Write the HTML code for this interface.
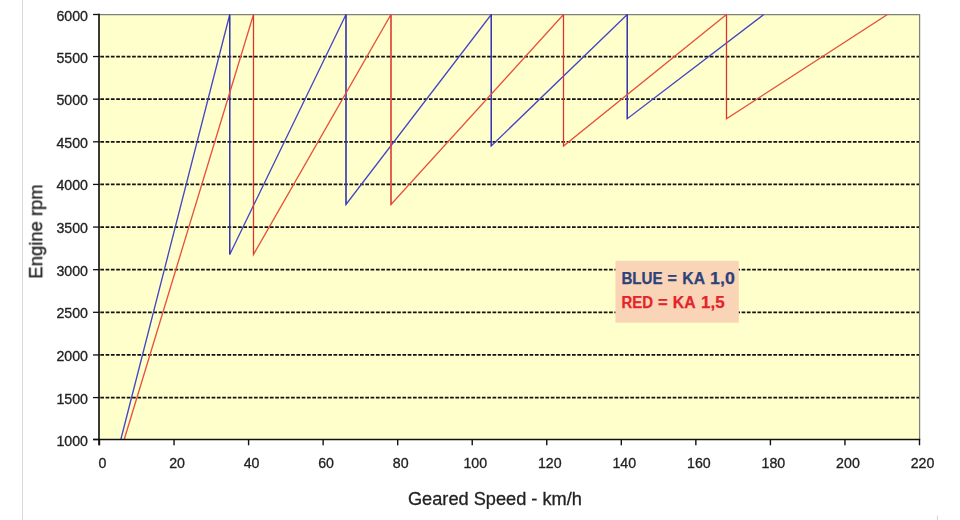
<!DOCTYPE html>
<html><head><meta charset="utf-8"><title>Chart</title>
<style>
html,body{margin:0;padding:0;background:#fff;}
body{width:960px;height:520px;overflow:hidden;font-family:"Liberation Sans",sans-serif;}
svg{display:block;font-family:"Liberation Sans",sans-serif;}
</style></head><body>
<svg width="960" height="520" viewBox="0 0 960 520">
<rect x="99.5" y="14.5" width="820" height="425" fill="#ffffcc"/>
<line x1="100.3" x2="919.5" y1="397.58" y2="397.58" stroke="#111" stroke-width="1.7" stroke-dasharray="3.7 1.6"/>
<line x1="100.3" x2="919.5" y1="354.95" y2="354.95" stroke="#111" stroke-width="1.7" stroke-dasharray="3.7 1.6"/>
<line x1="100.3" x2="919.5" y1="312.31" y2="312.31" stroke="#111" stroke-width="1.7" stroke-dasharray="3.7 1.6"/>
<line x1="100.3" x2="919.5" y1="269.69" y2="269.69" stroke="#111" stroke-width="1.7" stroke-dasharray="3.7 1.6"/>
<line x1="100.3" x2="919.5" y1="227.06" y2="227.06" stroke="#111" stroke-width="1.7" stroke-dasharray="3.7 1.6"/>
<line x1="100.3" x2="919.5" y1="184.43" y2="184.43" stroke="#111" stroke-width="1.7" stroke-dasharray="3.7 1.6"/>
<line x1="100.3" x2="919.5" y1="141.80" y2="141.80" stroke="#111" stroke-width="1.7" stroke-dasharray="3.7 1.6"/>
<line x1="100.3" x2="919.5" y1="99.17" y2="99.17" stroke="#111" stroke-width="1.7" stroke-dasharray="3.7 1.6"/>
<line x1="100.3" x2="919.5" y1="56.53" y2="56.53" stroke="#111" stroke-width="1.7" stroke-dasharray="3.7 1.6"/>
<path d="M99.5,14.6 H919.6 V439.5" fill="none" stroke="#80807a" stroke-width="1.25"/>
<clipPath id="pc"><rect x="99.5" y="13.9" width="820.6" height="426"/></clipPath>
<g clip-path="url(#pc)" fill="none">
<path d="M120.80,439.50 L229.75,14.50 L229.75,254.50 L346.00,14.50 L346.00,204.50 L491.25,14.50 L491.25,146.00 L627.25,14.50 L627.25,118.70 L763.75,14.50" stroke="#4646c6" stroke-width="1.35" stroke-linejoin="miter"/>
<path d="M229.75,14.50 V254.50 M346.00,14.50 V204.50 M491.25,14.50 V146.00 M627.25,14.50 V118.70" stroke="#2a2aa6" stroke-width="0.9"/>
<path d="M124.20,439.50 L253.50,14.50 L253.50,254.50 L391.00,14.50 L391.00,204.50 L563.50,14.50 L563.50,146.00 L726.50,14.50 L726.50,118.70 L887.50,14.50" stroke="#e8523e" stroke-width="1.35" stroke-linejoin="miter"/>
<path d="M253.50,14.50 V254.50 M391.00,14.50 V204.50 M563.50,14.50 V146.00 M726.50,14.50 V118.70" stroke="#d83030" stroke-width="0.9"/>
</g>
<rect x="615.4" y="260.8" width="123.4" height="61.9" fill="#fad4b6"/>
<text x="621.40" y="284.20" font-weight="bold" font-size="15.6" fill="#2d427a" stroke="#2d427a" stroke-width="0.25" textLength="41.20" lengthAdjust="spacingAndGlyphs">BLUE</text>
<text x="667.60" y="284.20" font-weight="bold" font-size="15.6" fill="#2d427a" stroke="#2d427a" stroke-width="0.25" textLength="9.40" lengthAdjust="spacingAndGlyphs">=</text>
<text x="682.30" y="284.20" font-weight="bold" font-size="15.6" fill="#2d427a" stroke="#2d427a" stroke-width="0.25" textLength="22.70" lengthAdjust="spacingAndGlyphs">KA</text>
<text x="710.10" y="284.20" font-weight="bold" font-size="15.6" fill="#2d427a" stroke="#2d427a" stroke-width="0.25" textLength="24.70" lengthAdjust="spacingAndGlyphs">1,0</text>
<text x="621.40" y="307.80" font-weight="bold" font-size="15.6" fill="#e3242b" stroke="#e3242b" stroke-width="0.25" textLength="31.60" lengthAdjust="spacingAndGlyphs">RED</text>
<text x="658.10" y="307.80" font-weight="bold" font-size="15.6" fill="#e3242b" stroke="#e3242b" stroke-width="0.25" textLength="9.70" lengthAdjust="spacingAndGlyphs">=</text>
<text x="672.80" y="307.80" font-weight="bold" font-size="15.6" fill="#e3242b" stroke="#e3242b" stroke-width="0.25" textLength="22.80" lengthAdjust="spacingAndGlyphs">KA</text>
<text x="701.10" y="307.80" font-weight="bold" font-size="15.6" fill="#e3242b" stroke="#e3242b" stroke-width="0.25" textLength="23.50" lengthAdjust="spacingAndGlyphs">1,5</text>
<g id="ax" style="opacity:0.999" stroke="#222" stroke-width="0.3">
<line x1="99.0" x2="99.0" y1="13.8" y2="445.3" stroke="#111" stroke-width="1.65"/>
<line x1="93.3" x2="920.2" y1="439.5" y2="439.5" stroke="#111" stroke-width="1.6"/>
<line x1="93.0" x2="99.5" y1="439.50" y2="439.50" stroke="#111" stroke-width="1.3"/>
<text x="88" y="445.50" text-anchor="end" font-size="14.2" fill="#222">1000</text>
<line x1="93.0" x2="99.5" y1="397.58" y2="397.58" stroke="#111" stroke-width="1.3"/>
<text x="88" y="403.58" text-anchor="end" font-size="14.2" fill="#222">1500</text>
<line x1="93.0" x2="99.5" y1="354.95" y2="354.95" stroke="#111" stroke-width="1.3"/>
<text x="88" y="360.95" text-anchor="end" font-size="14.2" fill="#222">2000</text>
<line x1="93.0" x2="99.5" y1="312.31" y2="312.31" stroke="#111" stroke-width="1.3"/>
<text x="88" y="318.31" text-anchor="end" font-size="14.2" fill="#222">2500</text>
<line x1="93.0" x2="99.5" y1="269.69" y2="269.69" stroke="#111" stroke-width="1.3"/>
<text x="88" y="275.69" text-anchor="end" font-size="14.2" fill="#222">3000</text>
<line x1="93.0" x2="99.5" y1="227.06" y2="227.06" stroke="#111" stroke-width="1.3"/>
<text x="88" y="233.06" text-anchor="end" font-size="14.2" fill="#222">3500</text>
<line x1="93.0" x2="99.5" y1="184.43" y2="184.43" stroke="#111" stroke-width="1.3"/>
<text x="88" y="190.43" text-anchor="end" font-size="14.2" fill="#222">4000</text>
<line x1="93.0" x2="99.5" y1="141.80" y2="141.80" stroke="#111" stroke-width="1.3"/>
<text x="88" y="147.80" text-anchor="end" font-size="14.2" fill="#222">4500</text>
<line x1="93.0" x2="99.5" y1="99.17" y2="99.17" stroke="#111" stroke-width="1.3"/>
<text x="88" y="105.17" text-anchor="end" font-size="14.2" fill="#222">5000</text>
<line x1="93.0" x2="99.5" y1="56.53" y2="56.53" stroke="#111" stroke-width="1.3"/>
<text x="88" y="62.53" text-anchor="end" font-size="14.2" fill="#222">5500</text>
<line x1="93.0" x2="99.5" y1="14.50" y2="14.50" stroke="#111" stroke-width="1.3"/>
<text x="88" y="20.50" text-anchor="end" font-size="14.2" fill="#222">6000</text>
<line x1="99.50" x2="99.50" y1="439.5" y2="445.3" stroke="#111" stroke-width="1.4"/>
<text x="102.50" y="468" text-anchor="middle" font-size="14.2" fill="#222">0</text>
<line x1="174.05" x2="174.05" y1="439.5" y2="445.3" stroke="#111" stroke-width="1.4"/>
<text x="177.05" y="468" text-anchor="middle" font-size="14.2" fill="#222">20</text>
<line x1="248.59" x2="248.59" y1="439.5" y2="445.3" stroke="#111" stroke-width="1.4"/>
<text x="251.59" y="468" text-anchor="middle" font-size="14.2" fill="#222">40</text>
<line x1="323.14" x2="323.14" y1="439.5" y2="445.3" stroke="#111" stroke-width="1.4"/>
<text x="326.14" y="468" text-anchor="middle" font-size="14.2" fill="#222">60</text>
<line x1="397.68" x2="397.68" y1="439.5" y2="445.3" stroke="#111" stroke-width="1.4"/>
<text x="400.68" y="468" text-anchor="middle" font-size="14.2" fill="#222">80</text>
<line x1="472.23" x2="472.23" y1="439.5" y2="445.3" stroke="#111" stroke-width="1.4"/>
<text x="475.23" y="468" text-anchor="middle" font-size="14.2" fill="#222">100</text>
<line x1="546.77" x2="546.77" y1="439.5" y2="445.3" stroke="#111" stroke-width="1.4"/>
<text x="549.77" y="468" text-anchor="middle" font-size="14.2" fill="#222">120</text>
<line x1="621.32" x2="621.32" y1="439.5" y2="445.3" stroke="#111" stroke-width="1.4"/>
<text x="624.32" y="468" text-anchor="middle" font-size="14.2" fill="#222">140</text>
<line x1="695.86" x2="695.86" y1="439.5" y2="445.3" stroke="#111" stroke-width="1.4"/>
<text x="698.86" y="468" text-anchor="middle" font-size="14.2" fill="#222">160</text>
<line x1="770.41" x2="770.41" y1="439.5" y2="445.3" stroke="#111" stroke-width="1.4"/>
<text x="773.41" y="468" text-anchor="middle" font-size="14.2" fill="#222">180</text>
<line x1="844.95" x2="844.95" y1="439.5" y2="445.3" stroke="#111" stroke-width="1.4"/>
<text x="847.95" y="468" text-anchor="middle" font-size="14.2" fill="#222">200</text>
<line x1="919.50" x2="919.50" y1="439.5" y2="445.3" stroke="#111" stroke-width="1.4"/>
<text x="922.50" y="468" text-anchor="middle" font-size="14.2" fill="#222">220</text>
<text x="494.9" y="504.5" text-anchor="middle" font-size="18.2" fill="#222">Geared Speed - km/h</text>
<text transform="translate(42.2,231.5) rotate(-90)" text-anchor="middle" font-size="18.45" fill="#222">Engine rpm</text>
</g>
<line x1="937.4" x2="937.4" y1="515.5" y2="520" stroke="#d4d4d4" stroke-width="1"/>
<line x1="22.5" x2="22.5" y1="0" y2="520" stroke="#d8d8dc" stroke-width="1"/>
</svg>
</body></html>
